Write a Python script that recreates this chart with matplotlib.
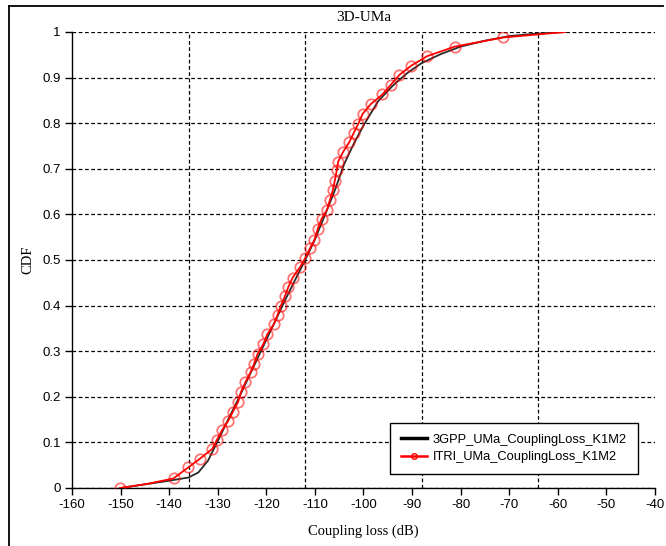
import numpy as np
import matplotlib
matplotlib.use("Agg")
import matplotlib.pyplot as plt
from matplotlib.lines import Line2D

# 3GPP reference curve (coupling loss in dB, CDF)
gpp_x = [-150, -145, -140, -136, -134, -132, -130, -128, -126, -124, -122,
         -120, -118, -116, -114, -112, -110, -108, -106, -104, -102, -100,
         -97, -94, -91, -88, -84, -80, -75, -70, -65, -58.5]
gpp_y = [0.0, 0.008, 0.016, 0.023, 0.034, 0.06, 0.103, 0.147, 0.19, 0.235, 0.28,
         0.325, 0.37, 0.415, 0.458, 0.50, 0.545, 0.597, 0.65, 0.71, 0.755, 0.795,
         0.848, 0.882, 0.91, 0.932, 0.952, 0.968, 0.981, 0.991, 0.996, 1.0]

# ITRI curve
itri_x = [-150.1, -144.5, -139.1, -136.1, -133.7, -131.1, -130.2, -129.1, -127.8,
          -126.9, -125.8, -125.2, -124.3, -123.2, -122.5, -121.8, -120.6, -119.8,
          -118.4, -117.7, -117.0, -116.2, -115.5, -114.6, -113.1, -112.0, -111.0,
          -110.1, -109.4, -108.6, -107.5, -106.9, -106.3, -105.9, -105.5, -105.2,
          -104.2, -102.9, -102.0, -101.1, -100.2, -98.5, -96.1, -94.4, -92.6,
          -90.2, -86.9, -81.2, -71.2, -58.5]
itri_y = [0.0, 0.009, 0.021, 0.045, 0.064, 0.086, 0.105, 0.127, 0.148,
          0.167, 0.189, 0.211, 0.232, 0.255, 0.273, 0.294, 0.316, 0.337,
          0.36, 0.379, 0.40, 0.42, 0.44, 0.461, 0.484, 0.504, 0.526,
          0.544, 0.569, 0.591, 0.61, 0.632, 0.654, 0.674, 0.697, 0.716,
          0.737, 0.759, 0.779, 0.798, 0.82, 0.842, 0.863, 0.884, 0.906,
          0.926, 0.947, 0.968, 0.988, 1.0]
# points of the ITRI line that carry no marker
no_marker = [1, len(itri_x) - 1]

xticks = list(range(-160, -39, 10))
xgrid = [-136, -112, -88, -64, -40]
yticks = [round(0.1 * i, 1) for i in range(11)]
ytick_labels = ["0"] + ["%.1f" % v for v in yticks[1:-1]] + ["1"]

sans = "Liberation Sans"
serif = "Liberation Serif"

fig = plt.figure(figsize=(6.66, 5.46), dpi=100)
ax = fig.add_axes([72 / 666, 58 / 546, 583 / 666, 456 / 546])

ax.plot(gpp_x, gpp_y, color="#2a2a2a", lw=1.3, zorder=3)
marks = [i for i in range(len(itri_x)) if i not in no_marker]
ax.plot(itri_x, itri_y, color="red", lw=1.3, zorder=4,
        marker="o", markevery=marks, markersize=7.5,
        markerfacecolor="none", markeredgecolor=(1, 0, 0, 0.55),
        markeredgewidth=1.3)

ax.set_xlim(-160, -40)
ax.set_ylim(0, 1)
ax.set_xticks(xticks)
ax.set_xticklabels([str(v) for v in xticks], fontfamily=sans, fontsize=9.5)
ax.set_xticks(xgrid, minor=True)
ax.set_yticks(yticks)
ax.set_yticklabels(ytick_labels, fontfamily=sans, fontsize=9.5)
ax.tick_params(axis="both", which="major", direction="out", length=5,
               width=1, pad=3, color="black")
ax.tick_params(axis="x", which="minor", length=0)

ax.grid(True, axis="x", which="minor", color="black", ls=(0, (3, 2)), lw=0.9)
ax.grid(True, axis="y", which="major", color="black", ls=(0, (3, 2)), lw=0.9)
ax.set_axisbelow(True)
for s in ("top", "right"):
    ax.spines[s].set_visible(False)
for s in ("left", "bottom"):
    ax.spines[s].set_linewidth(1)

ax.set_title("3D-UMa", fontfamily=serif, fontsize=11, pad=8)
ax.set_xlabel("Coupling loss (dB)", fontfamily=serif, fontsize=10.5, labelpad=10)
ax.set_ylabel("CDF", fontfamily=serif, fontsize=10.5, labelpad=6)

handles = [Line2D([], [], color="black", lw=2.5),
           Line2D([], [], color="red", lw=1.8, marker="o", markersize=4,
                  markerfacecolor="none", markeredgecolor="red")]
leg = ax.legend(handles, ["3GPP_UMa_CouplingLoss_K1M2", "ITRI_UMa_CouplingLoss_K1M2"],
                loc="lower right", bbox_to_anchor=(566 / 583, 14 / 456),
                borderaxespad=0, fancybox=False, framealpha=1, edgecolor="black",
                prop={"family": sans, "size": 9.3}, handlelength=2.0,
                handletextpad=0.45, labelspacing=0.4, borderpad=0.85)
leg.get_frame().set_linewidth(1)
leg.set_zorder(10)

# window frame around the figure
fig.add_artist(Line2D([8.5 / 666, 8.5 / 666], [0, 1 - 5.5 / 546], color="black",
                      lw=1.3, transform=fig.transFigure))
fig.add_artist(Line2D([8.5 / 666, 663 / 666], [1 - 5.5 / 546, 1 - 5.5 / 546],
                      color="black", lw=1.3, transform=fig.transFigure))

fig.savefig("out.png", dpi=100)
